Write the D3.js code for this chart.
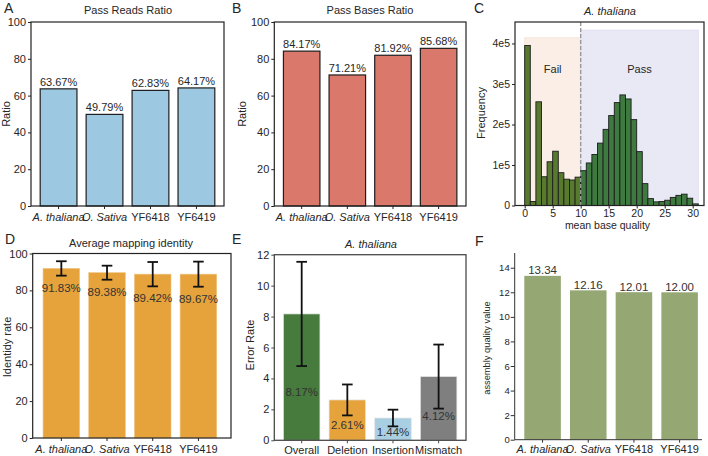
<!DOCTYPE html>
<html><head><meta charset="utf-8">
<script src="https://cdn.jsdelivr.net/npm/d3@7"></script>
<style>
body{margin:0;background:#fff}
svg{display:block;font-family:"Liberation Sans",Arial,Helvetica,sans-serif}
</style></head><body>
<svg id="chart" width="708" height="456"></svg>
<script>
// ---------------- data ----------------
const strains = ["A. thaliana", "O. Sativa", "YF6418", "YF6419"];
const italicNames = ["A. thaliana", "O. Sativa"];
const passReadsRatio = [63.67, 49.79, 62.83, 64.17];
const passBasesRatio = [84.17, 71.21, 81.92, 85.68];
const ratioTicks = [0, 20, 40, 60, 80, 100];

const qualityBinStart = [0,1,2,3,4,5,6,7,8,9,10,11,12,13,14,15,16,17,18,19,20,21,22,23,24,25,26,27,28,29,30];
const qualityCounts = [395000, 10000, 256000, 71000, 108000, 134000, 81000, 65000, 63000, 70000,
  86000, 105000, 126000, 154000, 188000, 222000, 254000, 273000, 263000, 212000,
  133000, 54000, 17000, 9000, 10000, 13000, 20000, 25000, 28000, 18000, 4000];
const qualityCutoff = 10;
const qualityMax = 31;
const qualityTicks = [0, 5, 10, 15, 20, 25, 30];
const frequencyTicks = [0, 100000, 200000, 300000, 400000];
const failRegionTop = 414000;
const passRegionTop = 433000;

const identityMean = [91.9, 89.6, 88.8, 88.8];
const identitySd = [3.9, 3.8, 6.6, 6.8];
const identityLabels = ["91.83%", "89.38%", "89.42%", "89.67%"];

const errorTypes = ["Overall", "Deletion", "Insertion", "Mismatch"];
const errorRate = [8.17, 2.61, 1.44, 4.12];
const errorSd = [3.37, 1.0, 0.54, 2.07];
const errorTicks = [0, 2, 4, 6, 8, 10, 12];

const assemblyQV = [13.34, 12.16, 12.01, 12.00];
const qvTicks = [0, 2, 4, 6, 8, 10, 12, 14];

// ---------------- helpers ----------------
const svg = d3.select("#chart");
const TXT = "#262626";

function letter(t, x, y) {
  svg.append("text").attr("x", x).attr("y", y).attr("font-size", 14).attr("fill", TXT).text(t);
}
function title(t, x, y, italic) {
  svg.append("text").attr("x", x).attr("y", y).attr("text-anchor", "middle")
    .attr("font-size", 11).attr("fill", TXT).attr("font-style", italic ? "italic" : "normal").text(t);
}
function yLabel(t, x, y, size) {
  svg.append("text").attr("transform", `translate(${x},${y}) rotate(-90)`)
    .attr("text-anchor", "middle").attr("dy", "0.35em")
    .attr("font-size", size || 11).attr("fill", TXT).text(t);
}
function yAxis(box, y, ticks, fmt, opts = {}) {
  const ax = d3.axisLeft(y).tickValues(ticks).tickSize(opts.size || 3).tickPadding(opts.pad || 2).tickFormat(fmt || (d => d));
  const g = svg.append("g").attr("transform", `translate(${box.x0},0)`).call(ax);
  g.select(".domain").remove();
  g.selectAll("text").attr("font-size", opts.font || 11).attr("fill", TXT).attr("font-family", null);
  g.selectAll("line").attr("stroke", opts.color || "#222");
}
function xAxis(box, x, opts = {}) {
  const ax = d3.axisBottom(x).tickSize(3).tickPadding(opts.pad == null ? 4.5 : opts.pad);
  if (opts.ticks) ax.tickValues(opts.ticks);
  const g = svg.append("g").attr("transform", `translate(0,${box.y1})`).call(ax);
  g.select(".domain").remove();
  g.selectAll("text").attr("font-size", opts.font || 11).attr("fill", TXT).attr("font-family", null)
    .attr("font-style", d => italicNames.includes(d) ? "italic" : "normal");
  g.selectAll("line").attr("stroke", opts.color || "#222");
}
function frame(box, color, width) {
  svg.append("rect").attr("x", box.x0).attr("y", box.y0)
    .attr("width", box.x1 - box.x0).attr("height", box.y1 - box.y0)
    .attr("fill", "none").attr("stroke", color || "#222").attr("stroke-width", width || 1.2);
}
function band(domain, box, po, align) {
  return d3.scaleBand().domain(domain).range([box.x0, box.x1])
    .paddingInner(0.2).paddingOuter(po).align(align == null ? 0.5 : align);
}
function errorBars(x, y, cats, means, sds) {
  const g = svg.append("g").attr("stroke", "#111").attr("stroke-width", 1.8);
  cats.forEach((c, i) => {
    const cx = x(c) + x.bandwidth() / 2;
    const lo = y(means[i] - sds[i]), hi = y(means[i] + sds[i]);
    g.append("line").attr("x1", cx).attr("x2", cx).attr("y1", lo).attr("y2", hi);
    g.append("line").attr("x1", cx - 5.3).attr("x2", cx + 5.3).attr("y1", lo).attr("y2", lo);
    g.append("line").attr("x1", cx - 5.3).attr("x2", cx + 5.3).attr("y1", hi).attr("y2", hi);
  });
}

// ---------------- Panel A & B ----------------
function ratioPanel(box, values, color, ttl, ttlX, ltr, ltrX, ylabX) {
  const x = band(strains, box, 0.2);
  const y = d3.scaleLinear().domain([0, 100]).range([box.y1, box.y0]);
  svg.append("g").selectAll("rect").data(values).join("rect")
    .attr("x", (d, i) => x(strains[i])).attr("width", x.bandwidth())
    .attr("y", d => y(d)).attr("height", d => y(0) - y(d))
    .attr("fill", color).attr("stroke", "#1e1e1e").attr("stroke-width", 1.2);
  svg.append("g").selectAll("text").data(values).join("text")
    .attr("x", (d, i) => x(strains[i]) + x.bandwidth() / 2).attr("y", d => y(d) - 3)
    .attr("text-anchor", "middle").attr("font-size", 11).attr("fill", TXT)
    .text(d => d.toFixed(2) + "%");
  frame(box);
  yAxis(box, y, ratioTicks);
  xAxis(box, x, {pad: 4.5});
  title(ttl, ttlX, 14);
  letter(ltr, ltrX, 13);
  yLabel("Ratio", ylabX, (box.y0 + box.y1) / 2);
}
ratioPanel({x0: 31, x1: 224, y0: 22, y1: 206}, passReadsRatio, "#9cc8e1", "Pass Reads Ratio", 128, "A", 4, 6.5);
ratioPanel({x0: 274.3, x1: 466, y0: 22, y1: 206}, passBasesRatio, "#d9786b", "Pass Bases Ratio", 370, "B", 232, 242.5);

// ---------------- Panel C ----------------
(function () {
  const box = {x0: 515, x1: 704, y0: 22, y1: 205.5};
  const x = d3.scaleLinear().domain([-1.73, 32.02]).range([box.x0, box.x1]);
  const y = d3.scaleLinear().domain([0, 453000]).range([box.y1, box.y0]);
  svg.append("rect").attr("x", x(0)).attr("width", x(qualityCutoff) - x(0))
    .attr("y", y(failRegionTop)).attr("height", y(0) - y(failRegionTop))
    .attr("fill", "#fbeee6").attr("stroke", "#f6e2d6").attr("stroke-width", 0.8);
  svg.append("rect").attr("x", x(qualityCutoff)).attr("width", x(qualityMax) - x(qualityCutoff))
    .attr("y", y(passRegionTop)).attr("height", y(0) - y(passRegionTop))
    .attr("fill", "#e9e9f6").attr("stroke", "#dcdcf0").attr("stroke-width", 0.8);
  svg.append("g").selectAll("rect").data(qualityCounts).join("rect")
    .attr("x", (d, i) => x(qualityBinStart[i]))
    .attr("width", (d, i) => x(qualityBinStart[i] + 1) - x(qualityBinStart[i]))
    .attr("y", d => y(d)).attr("height", d => y(0) - y(d))
    .attr("fill", (d, i) => qualityBinStart[i] < qualityCutoff ? "#587a2e" : "#3e7a3f")
    .attr("stroke", "#1c1c1c").attr("stroke-width", 0.9);
  svg.append("line").attr("x1", x(qualityCutoff)).attr("x2", x(qualityCutoff))
    .attr("y1", box.y0).attr("y2", box.y1)
    .attr("stroke", "#999").attr("stroke-width", 1.4).attr("stroke-dasharray", "4,2");
  svg.append("text").attr("x", (x(0) + x(qualityCutoff)) / 2).attr("y", 73).attr("text-anchor", "middle")
    .attr("font-size", 11).attr("fill", TXT).text("Fail");
  svg.append("text").attr("x", (x(qualityCutoff) + x(qualityMax)) / 2).attr("y", 73).attr("text-anchor", "middle")
    .attr("font-size", 11).attr("fill", TXT).text("Pass");
  frame(box);
  yAxis(box, y, frequencyTicks, d => d === 0 ? "0" : (d / 1e5) + "e5", {font: 10.5});
  xAxis(box, x, {ticks: qualityTicks, pad: 1, font: 10.5});
  svg.append("text").attr("x", (box.x0 + box.x1) / 2 - 2).attr("y", 228.5).attr("text-anchor", "middle")
    .attr("font-size", 10.5).attr("fill", TXT).text("mean base quality");
  title("A. thaliana", 610, 15, true);
  letter("C", 474, 13);
  yLabel("Frequency", 481, 113);
})();

// ---------------- Panel D ----------------
(function () {
  const box = {x0: 32.7, x1: 231, y0: 253.5, y1: 438};
  const x = band(strains, box, 0.27, 0.42);
  const y = d3.scaleLinear().domain([0, 100]).range([box.y1, box.y0]);
  svg.append("g").selectAll("rect").data(identityMean).join("rect")
    .attr("x", (d, i) => x(strains[i])).attr("width", x.bandwidth())
    .attr("y", d => y(d)).attr("height", d => y(0) - y(d))
    .attr("fill", "#e6a33c").attr("stroke", "#efc27f").attr("stroke-width", 0.6);
  errorBars(x, y, strains, identityMean, identitySd);
  svg.append("g").selectAll("text").data(identityLabels).join("text")
    .attr("x", (d, i) => x(strains[i]) + x.bandwidth() / 2)
    .attr("y", (d, i) => y(identityMean[i] - identitySd[i] - 6.5))
    .attr("dy", "0.35em").attr("text-anchor", "middle").attr("font-size", 11.5).attr("fill", "#333")
    .text(d => d);
  frame(box);
  yAxis(box, y, ratioTicks);
  xAxis(box, x, {pad: 4});
  title("Average mapping identity", 131, 247);
  letter("D", 5, 244);
  yLabel("Identidy rate", 7.5, 347);
})();

// ---------------- Panel E ----------------
(function () {
  const box = {x0: 274.3, x1: 466, y0: 254.7, y1: 440.3};
  const colors = ["#477a3d", "#e6a33c", "#a9cfe2", "#7f7f7f"];
  const x = band(errorTypes, box, 0.2);
  const y = d3.scaleLinear().domain([0, 12]).range([box.y1, box.y0]);
  svg.append("g").selectAll("rect").data(errorRate).join("rect")
    .attr("x", (d, i) => x(errorTypes[i])).attr("width", x.bandwidth())
    .attr("y", d => y(d)).attr("height", d => y(0) - y(d))
    .attr("fill", (d, i) => colors[i]).attr("stroke", "#e4e4e4").attr("stroke-width", 0.7);
  errorBars(x, y, errorTypes, errorRate, errorSd);
  svg.append("g").selectAll("text").data(errorRate).join("text")
    .attr("x", (d, i) => x(errorTypes[i]) + x.bandwidth() / 2)
    .attr("y", d => y(d * 0.38)).attr("dy", "0.35em")
    .attr("text-anchor", "middle").attr("font-size", 11.5).attr("fill", "#333")
    .text(d => d.toFixed(2) + "%");
  frame(box, "#4a4a4a", 1.3);
  yAxis(box, y, errorTicks, null, {color: "#4a4a4a"});
  xAxis(box, x, {pad: 2.8, color: "#4a4a4a"});
  title("A. thaliana", 371, 248, true);
  letter("E", 232, 244);
  yLabel("Error Rate", 250.6, 345);
})();

// ---------------- Panel F ----------------
(function () {
  const box = {x0: 514.7, x1: 702, y0: 253, y1: 439.7};
  const x = band(strains, box, 0.15, 0.7);
  const y = d3.scaleLinear().domain([0, 15.2]).range([box.y1, box.y0]);
  svg.append("g").selectAll("rect").data(assemblyQV).join("rect")
    .attr("x", (d, i) => x(strains[i])).attr("width", x.bandwidth())
    .attr("y", d => y(d)).attr("height", d => y(0) - y(d))
    .attr("fill", "#95a874");
  svg.append("g").selectAll("text").data(assemblyQV).join("text")
    .attr("x", (d, i) => x(strains[i]) + x.bandwidth() / 2).attr("y", d => y(d) - 1.5)
    .attr("text-anchor", "middle").attr("font-size", 11.5).attr("fill", "#333")
    .text(d => d.toFixed(2));
  svg.append("line").attr("x1", box.x0).attr("x2", box.x0).attr("y1", box.y0).attr("y2", box.y1)
    .attr("stroke", "#333").attr("stroke-width", 1);
  svg.append("line").attr("x1", box.x0).attr("x2", box.x1).attr("y1", box.y1).attr("y2", box.y1)
    .attr("stroke", "#333").attr("stroke-width", 1);
  yAxis(box, y, qvTicks, null, {size: 4, pad: 1, font: 9.5, color: "#333"});
  xAxis(box, x, {pad: 2.5, color: "#333"});
  letter("F", 475, 246);
  yLabel("assembly quality value", 487, 348, 9.3);
})();
</script>
</body></html>
